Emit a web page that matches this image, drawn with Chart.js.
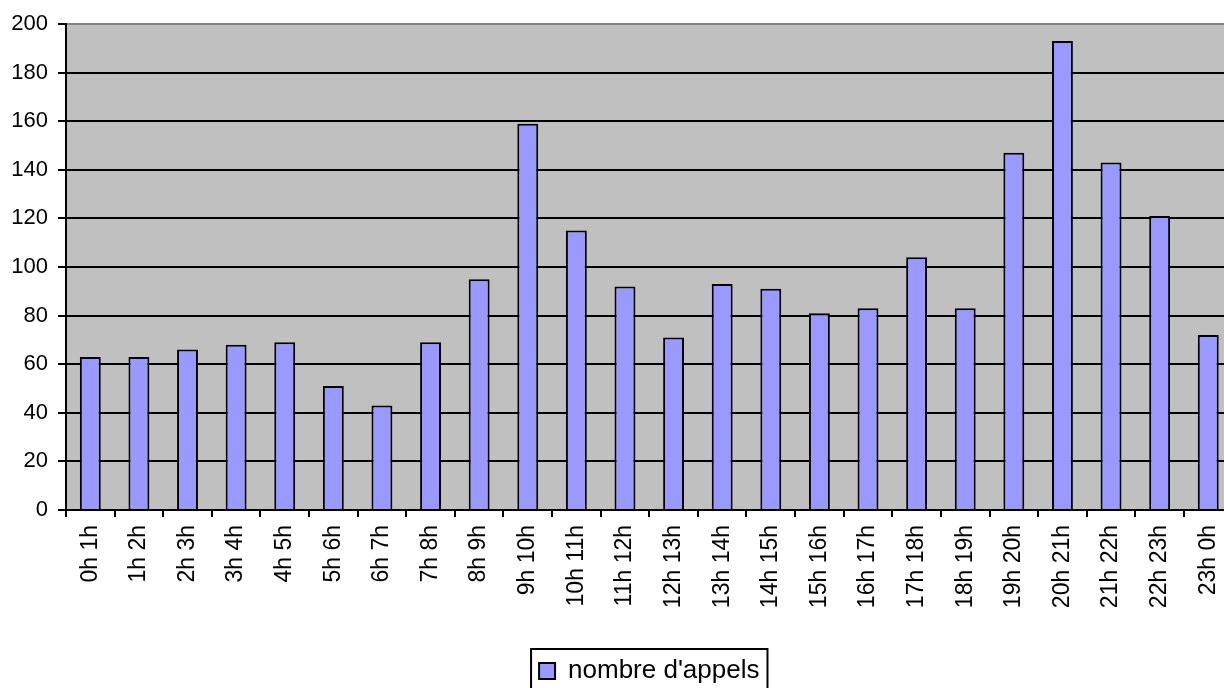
<!DOCTYPE html>
<html lang="fr">
<head>
<meta charset="utf-8">
<title>nombre d'appels</title>
<script src="https://cdn.jsdelivr.net/npm/chart.js@4/dist/chart.umd.min.js"></script>
<style>
  html, body { margin: 0; padding: 0; background: #fff; overflow: hidden; }
  #wrap { position: relative; width: 1244px; height: 700px; }
</style>
</head>
<body>
<div id="wrap"><canvas id="callsChart"></canvas></div>
<script>
// Hourly call counts.
const hours = [
  "0h 1h", "1h 2h", "2h 3h", "3h 4h", "4h 5h", "5h 6h", "6h 7h", "7h 8h",
  "8h 9h", "9h 10h", "10h 11h", "11h 12h", "12h 13h", "13h 14h", "14h 15h",
  "15h 16h", "16h 17h", "17h 18h", "18h 19h", "19h 20h", "20h 21h",
  "21h 22h", "22h 23h", "23h 0h"
];
const calls = [
  63, 63, 66, 68, 69, 51, 43, 69, 95, 159, 115, 92,
  71, 93, 91, 81, 83, 104, 83, 147, 193, 143, 121, 72
];
const seriesName = "nombre d'appels";
const yTicks = [0, 20, 40, 60, 80, 100, 120, 140, 160, 180, 200];

const BAR = "#9999ff";
const PLOT_BG = "#c0c0c0";
const INK = "#000000";
const TOP_EDGE = "#808080";

Chart.defaults.font.family = "'Liberation Sans', Arial, sans-serif";
Chart.defaults.color = INK;

// Grey plot area, like the old Excel default.
const plotBackground = {
  id: "plotBackground",
  beforeDraw(chart) {
    const { ctx, chartArea: a } = chart;
    ctx.save();
    ctx.fillStyle = PLOT_BG;
    ctx.fillRect(a.left, a.top, a.right - a.left, a.bottom - a.top);
    ctx.restore();
  }
};

// Framed legend.
const legendFrame = {
  id: "legendFrame",
  afterDraw(chart) {
    const boxes = chart.legend && chart.legend.legendHitBoxes;
    if (!boxes || !boxes.length) return;
    const b = boxes[0];
    const ctx = chart.ctx;
    ctx.save();
    ctx.strokeStyle = INK;
    ctx.lineWidth = 2;
    ctx.strokeRect(b.left - 8, b.top - 9, b.width + 16, b.height + 18);
    ctx.restore();
  }
};

new Chart(document.getElementById("callsChart"), {
  type: "bar",
  data: {
    labels: hours,
    datasets: [{
      label: seriesName,
      data: calls,
      backgroundColor: BAR,
      borderColor: INK,
      borderWidth: 2,
      barPercentage: 0.43,
      categoryPercentage: 1
    }]
  },
  options: {
    animation: false,
    responsive: true,
    maintainAspectRatio: false,
    layout: { padding: { top: 24, right: 7, bottom: 6, left: 0 } },
    plugins: {
      tooltip: { enabled: false },
      legend: {
        position: "bottom",
        fullSize: false,
        labels: {
          font: { size: 26 },
          boxWidth: 16,
          boxHeight: 16,
          padding: 10,
          color: INK
        }
      }
    },
    scales: {
      x: {
        offset: true,
        grid: {
          offset: true,
          drawOnChartArea: false,
          color: INK,
          lineWidth: 2,
          tickLength: 7
        },
        border: { color: INK, width: 2 },
        ticks: {
          autoSkip: false,
          minRotation: 90,
          maxRotation: 90,
          padding: 8,
          font: { size: 23 },
          color: INK
        },
        afterFit: (scale) => { scale.height = 138; }
      },
      y: {
        min: 0,
        max: 200,
        afterBuildTicks: (scale) => { scale.ticks = yTicks.map((v) => ({ value: v })); },
        grid: {
          color: (c) => (c.tick && c.tick.value === 200 ? TOP_EDGE : INK),
          tickColor: INK,
          lineWidth: 2,
          tickLength: 8
        },
        border: { color: INK, width: 2 },
        ticks: {
          padding: 10,
          font: { size: 22 },
          color: INK
        },
        afterFit: (scale) => { scale.width = 66; }
      }
    }
  },
  plugins: [plotBackground, legendFrame]
});
</script>
</body>
</html>
